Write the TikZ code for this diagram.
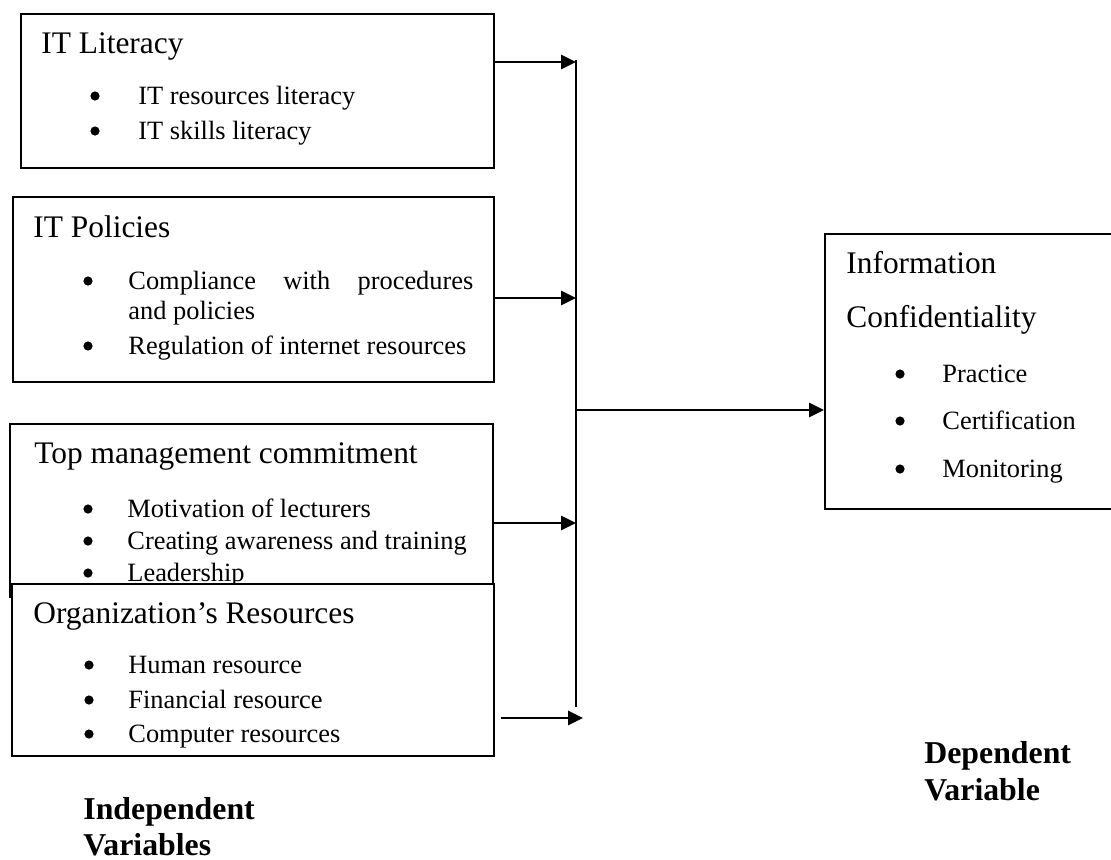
\documentclass[tikz,border=0pt]{standalone}
\usepackage{fontspec}
\setmainfont{Liberation Serif}
\usetikzlibrary{arrows.meta,fit}
\begin{document}
\begin{tikzpicture}[x=0.5pt,y=-0.5pt,
  box/.style={draw, line width=1pt, fill=white, inner sep=0pt},
  arr/.style={line width=1.4pt, -{Triangle[length=7.5pt,width=7pt]}},
  vline/.style={line width=1pt},
  head/.style={anchor=base west, inner sep=0pt, font=\fontsize{15.7}{18}\selectfont},
  item/.style={anchor=base west, inner sep=0pt, font=\fontsize{13.2}{15}\selectfont},
  dot/.style={circle, fill=black, inner sep=0pt, minimum size=4.6pt},
  lab/.style={anchor=base west, inner sep=0pt, font=\fontsize{15.9}{18}\selectfont\bfseries}]
\clip (0,0) rectangle (1111,859);
\fill[white] (0,0) rectangle (1111,859);

% Box 1
\node[box, fit={(21,14)(494,168)}] (b1) {};
\node[head] (h1) at (41,53) {IT Literacy};
\node[dot] (d11) at (95,96) {};
\node[item] (t11) at (138,104) {IT resources literacy};
\node[dot] (d12) at (95,131) {};
\node[item] (t12) at (138,139) {IT skills literacy};

% Box 2
\node[box, fit={(13,197)(494,382)}] (b2) {};
\node[head] (h2) at (33,237) {IT Policies};
\node[dot] (d21) at (88,281) {};
\node[item] (t21) at (128,289) {\hbox to 172.5pt{Compliance\hfill with\hfill procedures}};
\node[item] (t22) at (128,319) {and policies};
\node[dot] (d23) at (88,346) {};
\node[item] (t23) at (128,354) {Regulation of internet resources};

% Box 3
\node[box, fit={(10,424)(493,597)}] (b3) {};
\node[head] (h3) at (34,463) {Top management commitment};
\node[dot] (d31) at (88,509) {};
\node[item] (t31) at (127,517) {Motivation of lecturers};
\node[dot] (d32) at (88,541) {};
\node[item] (t32) at (127,549) {Creating awareness and training};
\node[dot] (d33) at (88,573) {};
\node[item] (t33) at (127,581) {Leadership};

% Box 4
\node[box, fit={(12,584)(494,756)}] (b4) {};
\node[head] (h4) at (33,623) {Organization’s Resources};
\node[dot] (d41) at (89,665) {};
\node[item] (t41) at (128,673) {Human resource};
\node[dot] (d42) at (89,700) {};
\node[item] (t42) at (128,708) {Financial resource};
\node[dot] (d43) at (89,734) {};
\node[item] (t43) at (128,742) {Computer resources};

% Dependent box
\node[box, fit={(825,234)(1140,509)}] (rb) {};
\node[head] (rh1) at (846,273) {Information};
\node[head] (rh2) at (846,327) {Confidentiality};
\node[dot] (rd1) at (900,374) {};
\node[item] (rt1) at (942,382) {Practice};
\node[dot] (rd2) at (900,421) {};
\node[item] (rt2) at (942,429) {Certification};
\node[dot] (rd3) at (900,469) {};
\node[item] (rt3) at (942,477) {Monitoring};

% Connectors
\coordinate (vtop) at (576,60);
\coordinate (vbot) at (576,707);
\draw[vline] (vtop) -- (vbot);
\coordinate (a1) at (576,62);
\coordinate (a2) at (576,298);
\coordinate (a3) at (576,523);
\coordinate (a4s) at (501,718);
\coordinate (a4) at (583,718);
\coordinate (a5) at (576,410);
\draw[arr] (b1.east |- a1) -- (a1);
\draw[arr] (b2.east |- a2) -- (a2);
\draw[arr] (b3.east |- a3) -- (a3);
\draw[arr] (a4s) -- (a4);
\draw[arr] (a5) -- (rb.west |- a5);

% Labels
\node[lab] (ind1) at (83,819) {Independent};
\node[lab] (ind2) at (83,855) {Variables};
\node[lab] (dep1) at (924,763) {Dependent};
\node[lab] (dep2) at (924,800) {Variable};
\end{tikzpicture}
\end{document}
